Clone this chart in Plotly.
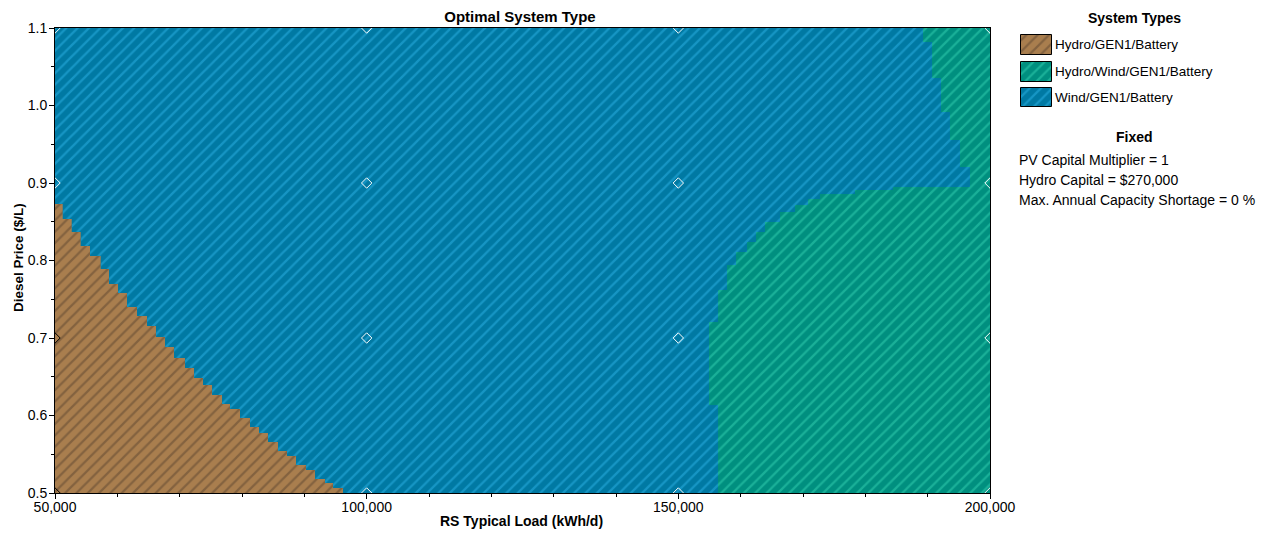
import plotly.graph_objects as go

# ---------------- data ----------------
load_range = [50000, 200000]          # RS Typical Load (kWh/d)
price_range = [0.5, 1.1]              # Diesel Price ($/L)

system_types = ["Hydro/GEN1/Battery", "Hydro/Wind/GEN1/Battery", "Wind/GEN1/Battery"]

# Hydro/GEN1/Battery region (lower-left staircase)
brown_load = [50000, 50000, 51235, 52680, 54120, 55615, 57330, 58665, 60105, 61550,
              63155, 64760, 66200, 67650, 69090, 70855, 72300, 73745, 75190, 76790,
              78075, 79680, 81285, 82730, 84170, 85775, 87220, 88665, 90270, 91710,
              93315, 94600, 96200, 96200, 50000]
brown_price = [0.5, 0.8729, 0.8729, 0.8535, 0.8368, 0.8187, 0.8058, 0.789, 0.7697, 0.7581,
               0.74, 0.7284, 0.7155, 0.7013, 0.6884, 0.6742, 0.6613, 0.6484, 0.6394, 0.6265,
               0.6148, 0.6084, 0.5968, 0.5852, 0.5774, 0.5658, 0.5542, 0.5477, 0.5361, 0.5297,
               0.5181, 0.5129, 0.5065, 0.5, 0.5]

# Hydro/Wind/GEN1/Battery region (right side)
green_load = [156370, 200000, 200000, 189250, 190700, 192140, 193580, 195190, 196790,
              184440, 178340, 172730, 170800, 168720, 166310, 163900, 162460, 161020,
              159250, 157810, 156370, 154920, 156370, 156370]
green_price = [0.5, 0.5, 1.1, 1.1, 1.0819, 1.0355, 0.9916, 0.9555, 0.9206,
               0.8948, 0.8910, 0.8858, 0.8794, 0.8716, 0.8626, 0.8497, 0.8368, 0.8239,
               0.8110, 0.7942, 0.7619, 0.7206, 0.6135, 0.5]

# Wind/GEN1/Battery fills the rest (background)
blue_load = [50000, 200000, 200000, 50000, 50000]
blue_price = [0.5, 0.5, 1.1, 1.1, 0.5]

# simulated grid points
grid_load = [50000, 100000, 150000, 200000]
grid_price = [0.5, 0.7, 0.9, 1.1]

x_ticks = [50000, 100000, 150000, 200000]
y_ticks = [0.5, 0.6, 0.7, 0.8, 0.9, 1.0, 1.1]

fixed_lines = ["PV Capital Multiplier = 1",
               "Hydro Capital = $270,000",
               "Max. Annual Capacity Shortage = 0 %"]

# ---------------- styling / layout geometry ----------------
FONT = "Liberation Sans, Arial, sans-serif"
OFF = 8                          # page body margin of the html page
PAGE_W, PAGE_H = 1270, 533
W, H = PAGE_W - OFF, PAGE_H - OFF
# main plot area edges, in page pixels
PL, PT, PB, PR = 55, 28, 493, 990
L, T, B = PL - OFF, PT - OFF, PB - OFF
MR = 2
AREA_W = W - MR - L
AREA_H = B - T

def px_x(p):      # page pixel -> paper x
    return (p - OFF - L) / AREA_W

def px_y(p):      # page pixel -> paper y
    return (B - (p - OFF)) / AREA_H

styles = {
    system_types[0]: ("#a97e4e", "#5e4630"),
    system_types[1]: ("#008f7f", "#33d2b2"),
    system_types[2]: ("#0079a3", "#2cb2e6"),
}

def pattern(name):
    bg, fg = styles[name]
    return dict(shape="/", bgcolor=bg, fgcolor=fg, size=8, solidity=0.28)

fig = go.Figure()

region_data = [
    (system_types[2], blue_load, blue_price, "linear"),
    (system_types[1], green_load, green_price, "vh"),
    (system_types[0], brown_load, brown_price, "vh"),
]
for name, xs, ys, shp in region_data:
    fig.add_trace(go.Scatter(
        x=xs, y=ys, mode="lines", fill="toself", name=name, showlegend=False,
        line=dict(width=0, shape=shp, color=styles[name][0]),
        fillcolor=styles[name][0], fillpattern=pattern(name), hoverinfo="skip"))

# grid point markers
gx, gy, gc = [], [], []
for xv in grid_load:
    for yv in grid_price:
        gx.append(xv)
        gy.append(yv)
        gc.append("black" if (xv == 50000 and yv < 0.8) else "white")
fig.add_trace(go.Scatter(
    x=gx, y=gy, mode="markers", showlegend=False, cliponaxis=True,
    marker=dict(symbol="diamond-open", size=8, color=gc, line=dict(width=1, color=gc)),
    hoverinfo="skip"))

# ---------------- legend drawn as swatches in an inset axis ----------------
SW_L, SW_R = 1020, 1052
sw_rows = [(34, 55), (61, 82), (87, 107)]
for name, (t_, b_) in zip(system_types, sw_rows):
    fig.add_trace(go.Scatter(
        x=[SW_L + 0.5, SW_R - 0.5, SW_R - 0.5, SW_L + 0.5, SW_L + 0.5],
        y=[t_ + 0.5, t_ + 0.5, b_ - 0.5, b_ - 0.5, t_ + 0.5],
        mode="lines", fill="toself", xaxis="x2", yaxis="y2", showlegend=False,
        line=dict(width=1, color="black"), fillcolor=styles[name][0],
        fillpattern=pattern(name), hoverinfo="skip", cliponaxis=False))

annotations = []
for name, (t_, b_) in zip(system_types, sw_rows):
    annotations.append(dict(text=name, x=px_x(SW_R + 1), y=px_y((t_ + b_) / 2),
                            xanchor="left", yanchor="middle", showarrow=False,
                            xref="paper", yref="paper",
                            font=dict(size=13.5, color="black", family=FONT)))
annotations.append(dict(text="<b>System Types</b>", x=px_x(1134), y=px_y(18),
                        xref="paper", yref="paper", showarrow=False,
                        xanchor="center", yanchor="middle",
                        font=dict(size=14, color="black", family=FONT)))
annotations.append(dict(text="<b>Fixed</b>", x=px_x(1134), y=px_y(137),
                        xref="paper", yref="paper", showarrow=False,
                        xanchor="center", yanchor="middle",
                        font=dict(size=14, color="black", family=FONT)))
for i, t in enumerate(fixed_lines):
    annotations.append(dict(text=t, x=px_x(1017), y=px_y(160 + i * 20),
                            xref="paper", yref="paper", xanchor="left", yanchor="middle",
                            showarrow=False, font=dict(size=14, color="black", family=FONT)))
# axis titles placed explicitly
annotations.append(dict(text="<b>RS Typical Load (kWh/d)</b>", x=px_x(521), y=px_y(521),
                        xref="paper", yref="paper", xanchor="center", yanchor="middle",
                        showarrow=False, font=dict(size=14, color="black", family=FONT)))
annotations.append(dict(text="<b>Diesel Price ($/L)</b>", x=px_x(18), y=px_y(258),
                        xref="paper", yref="paper", xanchor="center", yanchor="middle",
                        textangle=-90, showarrow=False,
                        font=dict(size=13.5, color="black", family=FONT)))

fig.update_layout(
    width=W, height=H,
    margin=dict(l=L, r=MR, t=T, b=H - B, autoexpand=False),
    paper_bgcolor="white", plot_bgcolor="white",
    font=dict(family=FONT, size=13, color="black"),
    title=dict(text="<b>Optimal System Type</b>", x=(520 - OFF) / W, xanchor="center",
               y=1 - (17 - OFF) / H, yanchor="middle", font=dict(size=15, family=FONT)),
    showlegend=False,
    annotations=annotations,
    xaxis=dict(domain=[0, px_x(PR)], range=load_range, tickvals=x_ticks, tickformat=",d",
               showline=True, linecolor="black", linewidth=1, mirror=True,
               ticks="outside", ticklen=5, tickcolor="black", showgrid=False, zeroline=False,
               automargin=False, tickfont=dict(size=14), ticklabelstandoff=-4,
               minor=dict(dtick=10000, ticks="outside", ticklen=3, tickcolor="black")),
    yaxis=dict(domain=[0, 1], range=price_range, tickvals=y_ticks, tickformat=".1f",
               showline=True, linecolor="black", linewidth=1, mirror=True,
               ticks="outside", ticklen=5, tickcolor="black", showgrid=False, zeroline=False,
               automargin=False, tickfont=dict(size=14), ticklabelstandoff=-1,
               minor=dict(dtick=0.05, ticks="outside", ticklen=3, tickcolor="black")),
    xaxis2=dict(domain=[px_x(SW_L), px_x(SW_R)], range=[SW_L, SW_R], anchor="y2",
                visible=False, fixedrange=True),
    yaxis2=dict(domain=[px_y(110), px_y(30)], range=[110, 30], anchor="x2",
                visible=False, fixedrange=True),
)

fig.write_html("out.html")
